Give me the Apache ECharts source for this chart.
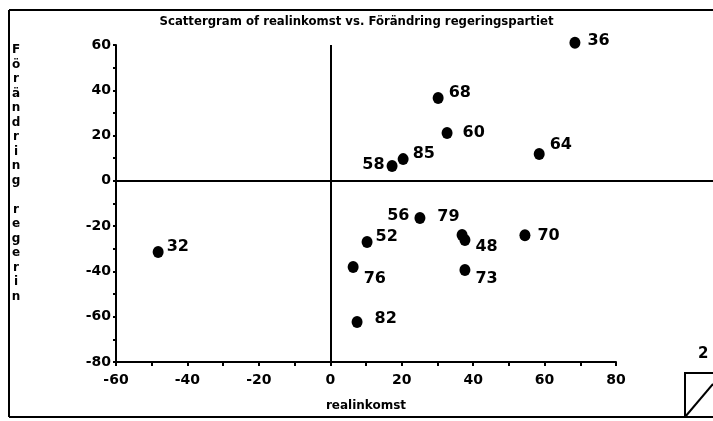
<!DOCTYPE html>
<html>
<head>
<meta charset="utf-8">
<script src="https://cdn.jsdelivr.net/npm/echarts@6/dist/echarts.min.js"></script>
<style>
html, body { margin: 0; padding: 0; background: #fff; }
#Echarts_Div { width: 713px; height: 421px; }
</style>
</head>
<body>
<div id="Echarts_Div"></div>
<script>
// year labels and the two variables
var years = ['36', '68', '60', '64', '85', '58', '56', '79', '48', '52', '70', '76', '73', '82', '32'];
var realinkomst = [68.5, 30.2, 32.7, 58.5, 20.4, 17.3, 25.1, 36.9, 37.7, 10.3, 54.5, 6.4, 37.7, 7.5, -48.2];
var forandring = [61, 36.6, 21.1, 11.9, 9.6, 6.6, -16.4, -23.9, -26.1, -27, -24, -38, -39.4, -62.3, -31.4];

// where each year label sits next to its dot
var labelPlace = {
    '36': ['right', 2, -2], '68': ['right', 0, -5], '60': ['right', 5, 0],
    '64': ['right', 0, -9], '85': ['right', -1, -5], '58': ['left', 3, -1],
    '56': ['left', 0, -2], '79': ['left', 8, -18], '48': ['right', 0, 7],
    '52': ['right', -2, -5], '70': ['right', 2, 1], '76': ['right', 0, 12],
    '73': ['right', 0, 9], '82': ['right', 7, -3], '32': ['right', -2, -5]
};

var FONT = 'DejaVu Sans';

function getPoints() {
    var pts = [];
    for (var i = 0; i < years.length; i++) {
        var p = labelPlace[years[i]];
        pts.push({
            value: [realinkomst[i], forandring[i]],
            label: { position: p[0], offset: [p[1], p[2]] },
            name: years[i]
        });
    }
    return pts;
}

function drawScatter() {
    var myChart = echarts.init(document.getElementById('Echarts_Div'));
    var axisText = { color: '#000', fontFamily: FONT, fontWeight: 'bold', fontSize: 14 };
    var option = {
        animation: false,
        title: {
            text: 'Scattergram of realinkomst vs. Förändring regeringspartiet',
            left: 'center', top: 10,
            textStyle: { fontFamily: 'DejaVu Sans Condensed', fontWeight: 'bold', fontSize: 13, color: '#000' }
        },
        grid: { left: 116, right: 97, top: 45, bottom: 59 },
        xAxis: {
            type: 'value', min: -60, max: 80, interval: 10,
            name: 'realinkomst', nameLocation: 'middle', nameGap: 38,
            nameTextStyle: { color: '#000', fontFamily: FONT, fontWeight: 'bold', fontSize: 12 },
            axisLine: { onZero: false, lineStyle: { color: '#000', width: 2 } },
            axisTick: { length: 4, lineStyle: { color: '#000', width: 2 } },
            axisLabel: Object.assign({ margin: 11, formatter: function (v) { return v % 20 === 0 ? v : ''; } }, axisText),
            splitLine: { show: false }
        },
        yAxis: {
            type: 'value', min: -80, max: 60, interval: 10,
            axisLine: { onZero: false, lineStyle: { color: '#000', width: 2 } },
            axisTick: { length: 3, lineStyle: { color: '#000', width: 2 } },
            axisLabel: Object.assign({ margin: 5, formatter: function (v) { return v % 20 === 0 ? v : ''; } }, axisText),
            splitLine: { show: false }
        },
        series: [{
            type: 'scatter',
            clip: false,
            symbol: 'circle',
            symbolSize: [11, 12],
            itemStyle: { color: '#000', opacity: 1 },
            data: getPoints(),
            label: {
                show: true,
                formatter: '{b}',
                color: '#000', fontFamily: FONT, fontWeight: 'bold', fontSize: 16
            },
            markLine: {
                silent: true, symbol: 'none', animation: false,
                label: { show: false },
                lineStyle: { color: '#000', width: 2, type: 'solid', opacity: 1 },
                data: [{ xAxis: 0 }]
            }
        }]
    };
    myChart.setOption(option);

    // the zero line runs from the y axis on past the right end of the x axis; page frame
    var z = myChart.convertToPixel({ gridIndex: 0 }, [-60, 0]);
    var zy = Math.round(z[1]);
    var lineStyle = { stroke: '#000', lineWidth: 2 };
    myChart.setOption({
        graphic: [
            { type: 'line', shape: { x1: z[0], y1: zy, x2: 713, y2: zy }, style: lineStyle },
            { type: 'line', shape: { x1: 9, y1: 10, x2: 713, y2: 10 }, style: lineStyle },
            { type: 'line', shape: { x1: 9, y1: 10, x2: 9, y2: 417 }, style: lineStyle },
            { type: 'line', shape: { x1: 9, y1: 417, x2: 713, y2: 417 }, style: lineStyle },
            { type: 'polyline', shape: { points: [[685, 417], [685, 373], [713, 373]] }, style: { stroke: '#000', lineWidth: 2, fill: null } },
            { type: 'line', shape: { x1: 685, y1: 417, x2: 713, y2: 384 }, style: lineStyle },
            { type: 'text', x: 698, y: 347, style: { text: '2', fill: '#000', font: 'bold 15px ' + FONT } },
            {
                type: 'text', x: 16, y: 43,
                style: {
                    text: 'F\nö\nr\nä\nn\nd\nr\ni\nn\ng\n \nr\ne\ng\ne\nr\ni\nn',
                    fill: '#000', font: 'bold 12px ' + FONT, align: 'center', lineHeight: 14.5
                }
            }
        ]
    });
}

window.onload = function () {
    drawScatter();
};
</script>
</body>
</html>
